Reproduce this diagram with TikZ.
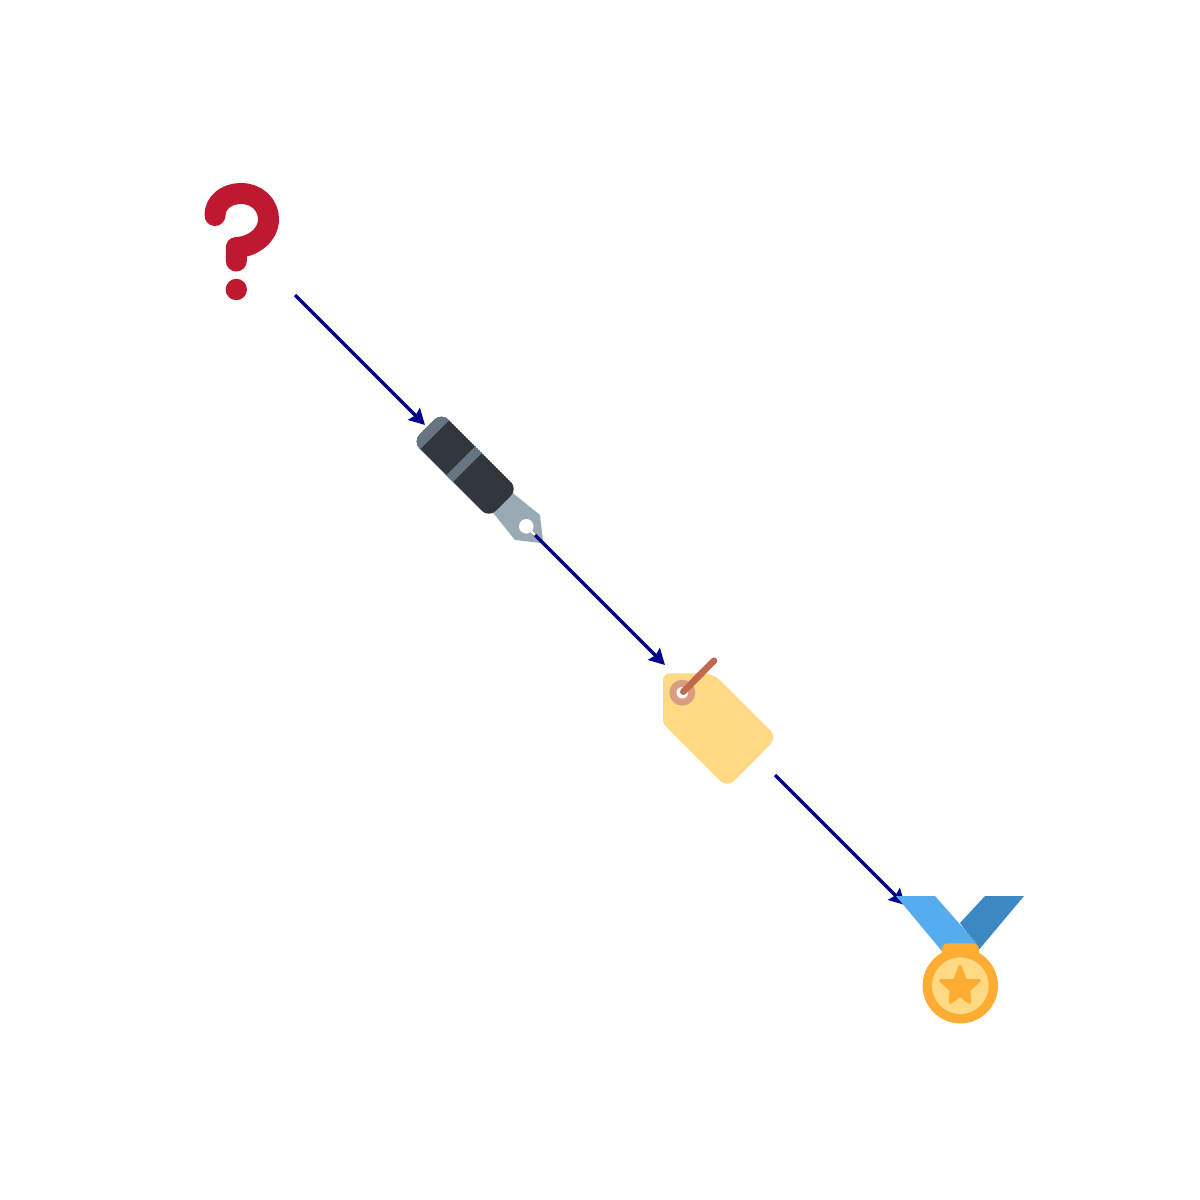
\documentclass[tikz,border=0pt]{standalone}
\usetikzlibrary{arrows.meta}
\definecolor{qred}{HTML}{BE1931}
\definecolor{pendark}{HTML}{31373D}
\definecolor{penband}{HTML}{66757F}
\definecolor{pennib}{HTML}{99AAB5}
\definecolor{tagfill}{HTML}{FFD983}
\definecolor{tagring}{HTML}{D99E82}
\definecolor{tagstr}{HTML}{C1694F}
\definecolor{ribl}{HTML}{55ACEE}
\definecolor{ribd}{HTML}{3B88C3}
\definecolor{medal}{HTML}{FFAC33}
\definecolor{arrowc}{HTML}{00008B}
\tikzset{
  icon/.style={circle,minimum size=155.6pt,inner sep=0pt,outer sep=0pt},
  link/.style={draw=arrowc,line width=3.4pt,-{Stealth[length=15.5pt,width=16.5pt,inset=2pt]}},
  diag/.style={x={(.7071pt,-.7071pt)},y={(.7071pt,.7071pt)}}
}
\begin{document}
\begin{tikzpicture}[x=1pt,y=-1pt]
\useasboundingbox (0,0) rectangle (1200,1200);
\fill[white] (0,0) rectangle (1200,1200);
% question mark
\draw[qred,line width=21pt,line cap=round,line join=round]
  (215,215.5) .. controls (215,202) and (227,193.5) .. (241,193.5)
  .. controls (257,193.5) and (268.5,205) .. (268.5,219)
  .. controls (268.5,236) and (252,247) .. (236.3,247.5) -- (236.3,261);
\fill[qred] (236.3,289.5) circle (10.7pt);
% pen
\begin{scope}[shift={(465.2,465.2)},diag]
  \fill[pennib] (50,-14) -- (54,-14) -- (88,-17.7) -- (110.5,0) -- (88,17.7) -- (54,14) -- (50,14) -- cycle;
  \begin{scope}
    \clip[rounded corners=10pt] (0,-20.5) -- (54,-20.5) -- (54,20.5) -- (-54,20.5) -- (-54,-20.5) -- (0,-20.5);
    \fill[pendark] (-54,-20.5) -- (54,-20.5) -- (54,20.5) -- (-54,20.5) -- cycle;
    \fill[penband] (-54,-20.5) -- (-43.2,-20.5) -- (-43.2,20.5) -- (-54,20.5) -- cycle;
    \fill[penband] (-6.2,-20.5) -- (3.2,-20.5) -- (3.2,20.5) -- (-6.2,20.5) -- cycle;
  \end{scope}
  \fill[white] (86.4,0) circle (7.3pt);
  \draw[white,line width=2pt] (86.4,0) -- (100,0);
\end{scope}
% tag
\fill[tagfill,rounded corners=10pt] (690,673.3) -- (713.3,673.3) -- (777.3,737.3) -- (727.2,787.8) -- (695,755.7)
  [rounded corners=4pt] -- (663,723.7) [rounded corners=7pt] -- (663,673.3) -- (690,673.3);
\fill[tagring] (682.3,692.7) circle (13pt);
\fill[white] (682.3,692.7) circle (5.8pt);
\draw[tagstr,line width=6.6pt,line cap=round] (683.3,691.7) -- (714,660.7);
% connectors
\node[icon] (question) at (240,240) {};
\node[icon] (pen) at (480,480) {};
\node[icon] (tag) at (720,720) {};
\node[icon] (medalnode) at (960,960) {};
\draw[link] (question) -- (pen);
\draw[link] (pen) -- (tag);
\draw[link] (tag) -- (medalnode);
% medal
\fill[ribd] (985,896) -- (1024,896) -- (979.3,949.3) -- (960,923) -- cycle;
\fill[ribl] (896,896) -- (935,896) -- (976.7,943.3) -- (976.7,952) -- (942.7,952) -- cycle;
\fill[medal] (960.3,985.7) circle (37.7pt);
\fill[medal,rounded corners=6pt] (941.7,943.3) rectangle (979,962);
\fill[tagfill] (960.3,985.7) circle (28.3pt);
\fill[medal,draw=medal,line width=3pt,line join=round]
  (960,966.5) -- (965.5,980.5) -- (979.5,980.5) -- (969,990) -- (969.7,1002.5)
  -- (960,995.5) -- (950.3,1002.5) -- (951,990) -- (940.5,980.5) -- (954.5,980.5) -- cycle;
\end{tikzpicture}
\end{document}
